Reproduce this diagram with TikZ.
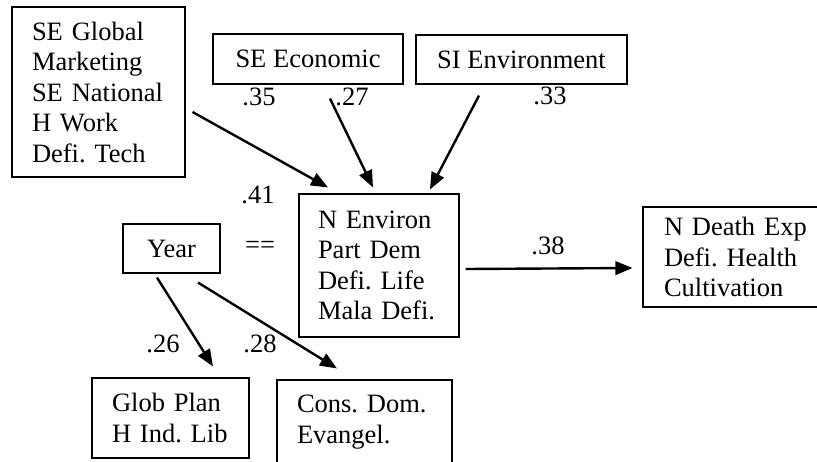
\documentclass[tikz,border=0pt]{standalone}
\usepackage{fontspec}
\setmainfont{Liberation Serif}
\usetikzlibrary{arrows.meta}

\begin{document}
\begin{tikzpicture}[x=1pt, y=-1pt,
  font=\fontsize{26.5}{30.5}\selectfont\frenchspacing,
  box/.style={draw, line width=1.1pt, inner ysep=0pt, inner xsep=20pt, align=left},
  cbox/.style={draw, line width=1.1pt, inner sep=0pt, align=center},
  coef/.style={inner sep=0pt},
  link/.style={line width=2.4pt, -{Triangle[length=17pt, width=13.5pt]}}]

\useasboundingbox (0,0) rectangle (817,461);

% predictors on top
\node[box, text width=133pt, minimum height=170pt] (segl) at (98.5,92)
  {SE Global\\Marketing\\SE National\\H Work\\Defi. Tech};
\node[cbox, minimum width=190pt, minimum height=50pt] (seco) at (308,59) {SE Economic};
\node[cbox, minimum width=211pt, minimum height=49pt] (sien) at (521.5,59.5) {SI Environment};

% central construct and outcome
\node[box, inner xsep=19pt, text width=122pt, minimum height=143pt] (nenv) at (379,265.5)
  {N Environ\\Part Dem\\Defi. Life\\Mala Defi.};
\node[box, inner xsep=21pt, text width=146pt, minimum height=100pt] (ndea) at (737,257)
  {N Death Exp\\Defi. Health\\Cultivation};

% year and its outcomes
\node[cbox, minimum width=97pt, minimum height=49pt] (year) at (171.5,248.5) {Year};
\node[box, text width=117pt, minimum height=80pt] (glob) at (170.5,418)
  {Glob Plan\\H Ind. Lib};
\node[box, text width=135pt, minimum height=84pt] (cons) at (364.5,422)
  {Cons. Dom.\\Evangel.};

% paths
\draw[link] ([shift={(7,20)}]segl.east) -- ([shift={(-51,-6)}]nenv.north);
\draw[link] ([shift={(22,14)}]seco.south) -- ([shift={(-6,-6)}]nenv.north);
\draw[link] ([shift={(-42.5,11)}]sien.south) -- ([shift={(51,-4)}]nenv.north);
\draw[link] ([shift={(6,3.5)}]nenv.east) -- ([shift={(-10,11)}]ndea.west);
\draw[link] ([shift={(-14.5,4)}]year.south) -- ([shift={(42.5,-11)}]glob.north);
\draw[link] ([shift={(26.5,9)}]year.south) -- ([shift={(-27.5,-11)}]cons.north);

% coefficients
\node[coef] (c35) at (259,97) {.35};
\node[coef] (c27) at (352,97) {.27};
\node[coef] (c33) at (550,96) {.33};
\node[coef] (c41) at (258,195) {.41};
\node[coef] (eq) at (260,247) {==};
\node[coef] (c38) at (548,246) {.38};
\node[coef] (c26) at (163,344) {.26};
\node[coef] (c28) at (260,344) {.28};
\end{tikzpicture}
\end{document}
